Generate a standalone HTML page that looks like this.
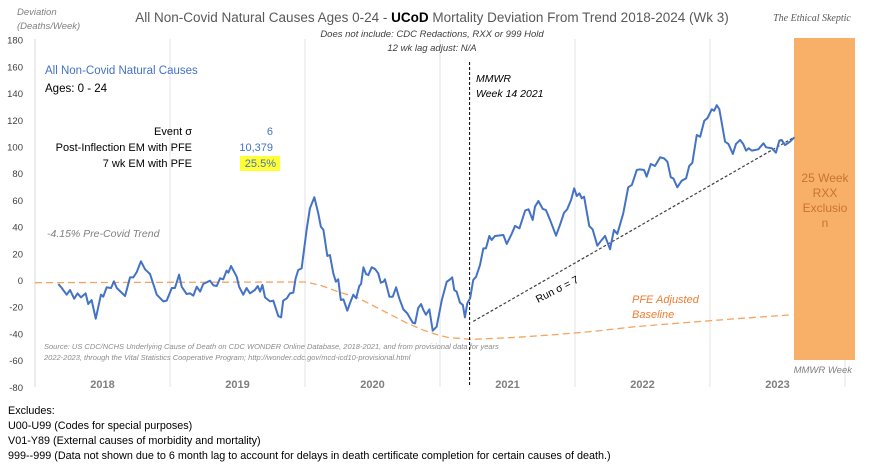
<!DOCTYPE html>
<html><head><meta charset="utf-8"><style>
body{margin:0;background:#fff;width:869px;height:466px;overflow:hidden;font-family:"Liberation Sans",sans-serif}
svg text{font-family:"Liberation Sans",sans-serif}
</style></head><body>
<svg id="chart" width="869" height="466" viewBox="0 0 869 466" xmlns="http://www.w3.org/2000/svg">
<rect x="0" y="0" width="869" height="466" fill="#fff"/>
<g id="grid"></g>
<rect x="794" y="38" width="61" height="322" fill="#f8b068"/>
<text x="825" y="182" font-size="12" fill="#c8742c" text-anchor="middle">25 Week</text>
<text x="825" y="197" font-size="12" fill="#c8742c" text-anchor="middle">RXX</text>
<text x="825" y="212" font-size="12" fill="#c8742c" text-anchor="middle">Exclusio</text>
<text x="825" y="227" font-size="12" fill="#c8742c" text-anchor="middle">n</text>
<g id="yaxis"></g>
<g id="xaxis"></g>
<g id="series"></g>

<text x="17" y="15" font-size="9.5" font-style="italic" fill="#7f7f7f">Deviation</text>
<text x="17" y="29" font-size="9.5" font-style="italic" fill="#7f7f7f">(Deaths/Week)</text>
<text x="432" y="22" font-size="13.5" fill="#595959" text-anchor="middle">All Non-Covid Natural Causes Ages 0-24 - <tspan font-weight="bold" fill="#000">UCoD</tspan> Mortality Deviation From Trend  2018-2024 (Wk 3)</text>
<text x="432" y="37" font-size="9.5" font-style="italic" fill="#404040" text-anchor="middle">Does not include: CDC Redactions, RXX or 999 Hold</text>
<text x="432" y="51" font-size="9.5" font-style="italic" fill="#404040" text-anchor="middle">12 wk lag adjust: N/A</text>
<text x="812" y="21" font-size="10" font-style="italic" fill="#595959" text-anchor="middle" style="font-family:'Liberation Serif',serif">The Ethical Skeptic</text>

<text x="45" y="74" font-size="11.5" fill="#4472c4">All Non-Covid Natural Causes</text>
<text x="45" y="92" font-size="11.5" fill="#000">Ages: 0 - 24</text>
<text x="192" y="135" font-size="11" fill="#000" text-anchor="end">Event σ</text>
<text x="273" y="135" font-size="11" fill="#4472c4" text-anchor="end">6</text>
<text x="192" y="151" font-size="11" fill="#000" text-anchor="end">Post-Inflection EM with PFE</text>
<text x="273" y="151" font-size="11" fill="#4472c4" text-anchor="end">10,379</text>
<rect x="240" y="156" width="40" height="15" fill="#ffff33"/>
<text x="192" y="167" font-size="11" fill="#000" text-anchor="end">7 wk EM with PFE</text>
<text x="276" y="167" font-size="11" fill="#4472c4" text-anchor="end">25.5%</text>
<text x="47" y="237" font-size="10.5" font-style="italic" fill="#7f7f7f">-4.15% Pre-Covid Trend</text>
<text x="44" y="349" font-size="7.5" font-style="italic" fill="#8c8c8c">Source: US CDC/NCHS Underlying Cause of Death on CDC WONDER Online Database, 2018-2021, and from provisional data for years</text>
<text x="44" y="360" font-size="7.5" font-style="italic" fill="#8c8c8c">2022-2023, through the Vital Statistics Cooperative Program; http://wonder.cdc.gov/mcd-icd10-provisional.html</text>
<text x="476" y="82" font-size="10.5" font-style="italic" fill="#000">MMWR</text>
<text x="476" y="97" font-size="10.5" font-style="italic" fill="#000">Week 14 2021</text>
<text x="538" y="303" font-size="10.5" fill="#000" transform="rotate(-27 538 303)">Run σ = 7</text>
<text x="632" y="303" font-size="11" font-style="italic" fill="#ed7d31">PFE Adjusted</text>
<text x="632" y="318" font-size="11" font-style="italic" fill="#ed7d31">Baseline</text>
<text x="852" y="373" font-size="9.5" font-style="italic" fill="#7f7f7f" text-anchor="end">MMWR Week</text>

<text x="8" y="414" font-size="10.8" fill="#000">Excludes:</text>
<text x="8" y="429" font-size="10.8" fill="#000">U00-U99 (Codes for special purposes)</text>
<text x="8" y="444" font-size="10.8" fill="#000">V01-Y89 (External causes of morbidity and mortality)</text>
<text x="8" y="459" font-size="10.8" fill="#000">999--999 (Data not shown due to 6 month lag to account for delays in death certificate completion for certain causes of death.)</text>
</svg>
<script>
const yTicks=[180,160,140,120,100,80,60,40,20,0,-20,-40,-60,-80];
const yearLabels=["2018","2019","2020","2021","2022","2023"];
const weeks=[9,10.3,12.2,13.5,15.1,16.4,17.7,19.5,20.5,21.8,23.4,25.4,26.3,27.6,29.3,30.4,31.5,34.7,36.6,37.9,39.2,40.8,42.4,44.3,46.9,49.4,50.7,52.7,53.9,55.5,56.5,58.4,59.7,61,62.3,63.6,64.8,67.4,68.7,70,71.3,72.5,73.8,74.5,75.5,77.7,78.6,80.2,81.5,82.8,84.7,85.8,86.7,87.6,88.6,90.5,91.8,93.7,94.8,95.6,97,98.2,99.5,100.4,101.4,102.7,104.7,105.9,107.6,109.1,110.1,111.1,112.6,113.6,114.9,115.9,116.8,117.8,118.8,120.3,121.3,122.6,123.7,124.9,125.6,126.5,127.5,128.4,129.7,131,132.2,133.2,134.2,134.8,136.5,137.8,139.1,140.3,141.9,143.4,145.5,146.4,147.6,148.7,149.6,150.6,151.9,153.2,154.7,156.7,158.6,159.6,160.7,161.5,162.4,163.7,164.8,165.6,166.5,167.6,168.8,169.9,171.4,172.7,173.7,175,175.9,177.2,180.4,181.7,183.6,184.9,186.6,188.8,190.1,191.7,192.6,193.9,195.6,196.8,198.4,200.7,202.2,203.8,205,206.5,207.7,208.7,209.7,210.6,211.5,213.5,214.8,216.6,218.3,219.6,221.5,223,224.3,226.6,228.5,229.9,231.8,233,234.6,235.6,237.2,238.8,240.8,242.3,243.6,244.9,245.9,247.4,249.1,250.8,252,253.2,254.9,256.2,257.8,259,260.7,261.6,262.6,263.6,265.8,267.1,268.8,270,271.6,272.8,273.9,274.9,276.1,278.6,280.6,281.6,283.8,285.4,286.7,287.6,288.9,290.8,292.5];
const deviation=[-3,-6,-11,-7.5,-14,-10,-13,-10,-18,-15,-29,-11,-12.5,-5.5,-6,-1,-6,-12,2,2,6,14,8,4.5,-11,-16,-15.5,-6,-6,4,-5,-10.5,-10,-11.7,-5,-8.7,-3,-0.5,-4,-4.5,1.3,0.5,7,5.5,10.5,2.5,-5,-11,-6,-10,-7.5,-4.5,-8.7,-3.7,-13,-16,-15.5,-27,-28,-15.5,-13.7,-10,-9.5,1.3,7.5,8.7,38.7,53.7,62,50,40,37.5,18,18.7,5,-1.3,0.5,-15,-14.5,-23,-17.5,-11,-13.7,-4.5,-3,9.5,4.5,3.7,9.5,8.2,5,-2,-1.3,0.5,-12.5,-12.5,-5.5,-13.7,-22,-25,-32,-32.5,-21,-18,-22.5,-26,-22,-38,-35,-15,-1.3,0,2,-7.5,-8.7,-17,-18.7,-28,-17.5,-13.7,0,2.5,11.2,23.7,23.7,33,30,33,33.7,27,34.5,40.5,38.7,52,53,45,55,59.2,53.2,52.4,45,33.2,41.2,50.4,53,60,68.7,62.9,64.9,61.2,62.4,40.4,37.9,25.7,30,33,23,37.5,34.5,50,69.4,71.2,82.4,82.9,82.4,77.4,86.9,85.4,91.9,91.1,88.6,76.9,76.1,69.4,74.4,76.1,85.4,87.8,108.6,107.3,119.3,121.2,127.9,126.8,131,127.9,103.6,101.9,94.4,101.9,104.9,101.9,96.9,98.7,96.9,97.9,102.4,99.4,98.7,95.4,104.4,104.9,101.1,103.6,106.9];
const baseWeeks=[0,100,104,110,117,124,130,137,143,149.5,155,159,168,185,200,215,231,250,270,292];
const baseValues=[-2,-1.5,-1.5,-4,-9,-13,-19,-26,-32,-37.5,-41,-43,-44.5,-43,-41,-38.5,-35,-32,-29,-26];
const runWeeks=[168.8,292.5];
const runValues=[-31,107];
const markerWeek=167.4;

const NS="http://www.w3.org/2000/svg";
const X=w=>35+w*135/52;
const Y=v=>280-v*1.335;
function mk(tag,attrs,parent){const e=document.createElementNS(NS,tag);for(const k in attrs)e.setAttribute(k,attrs[k]);parent.appendChild(e);return e;}
const grid=document.getElementById('grid'),ya=document.getElementById('yaxis'),xa=document.getElementById('xaxis'),ser=document.getElementById('series');
mk('line',{x1:35,x2:35,y1:39,y2:387,stroke:'#d9d9d9','stroke-width':1},grid);
yearLabels.forEach((lab,i)=>{
  const gl=mk('line',{x1:X(52*(i+1)),x2:X(52*(i+1)),y1:39,y2:387,stroke:'#e3e3e3','stroke-width':1},grid);
  
  
  const t=mk('text',{x:X(52*i+26),y:388,'font-size':11,'font-weight':'bold',fill:'#7f7f7f','text-anchor':'middle'},xa);
  t.textContent=lab;
  
  
});
yTicks.forEach(v=>{
  const t=mk('text',{x:23,y:Y(v)+4,'font-size':9.5,fill:'#404040','text-anchor':'end'},ya);
  t.textContent=v;
  
  
});
const bl=mk('polyline',{points:baseWeeks.map((w,i)=>X(w)+','+Y(baseValues[i])).join(' '),fill:'none',stroke:'#f4a460','stroke-width':1.3,'stroke-dasharray':'7,4'},ser);


const mv=mk('line',{x1:X(markerWeek),x2:X(markerWeek),y1:62,y2:387,stroke:'#000','stroke-width':1,'stroke-dasharray':'3,2'},ser);


const rl=mk('line',{x1:X(runWeeks[0]),y1:Y(runValues[0]),x2:X(runWeeks[1]),y2:Y(runValues[1]),stroke:'#404040','stroke-width':1.2,'stroke-dasharray':'3,2'},ser);


const dl=mk('polyline',{points:weeks.map((w,i)=>X(w)+','+Y(deviation[i])).join(' '),fill:'none',stroke:'#4472c4','stroke-width':2,'stroke-linejoin':'round'},ser);


</script>
</body></html>
